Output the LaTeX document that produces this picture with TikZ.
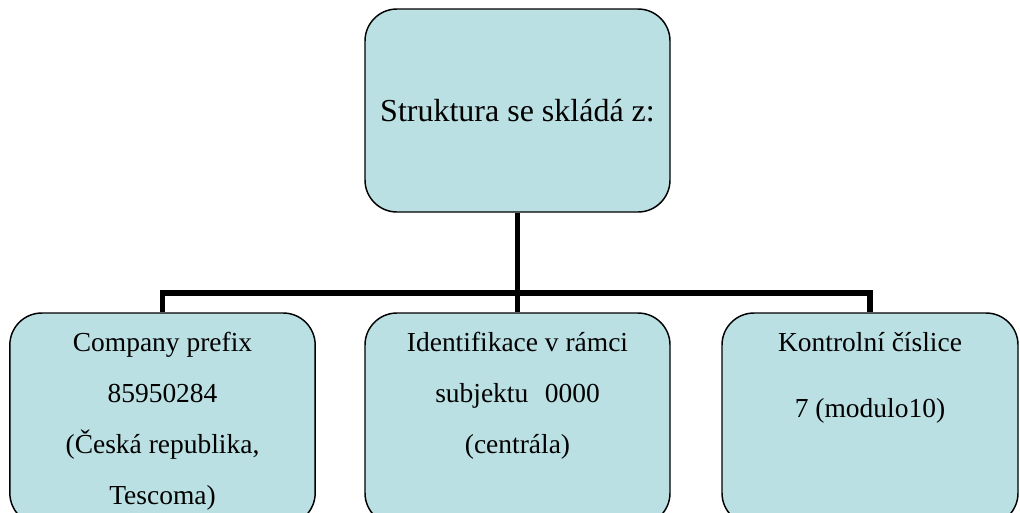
\documentclass[tikz,border=0pt]{standalone}
\usepackage{fontspec}
\setmainfont{Liberation Serif}
\usetikzlibrary{positioning}
\definecolor{boxfill}{RGB}{187,224,227}

\begin{document}
\begin{tikzpicture}[x=0.75pt,y=-0.75pt,
  box/.style={draw,line width=1.1pt,rounded corners=24pt,fill=boxfill,inner sep=0pt},
  boxtext/.style={anchor=north,align=center,inner sep=0pt,yshift=-15pt,
    font=\fontsize{20.6}{38.2}\selectfont},
  link/.style={line width=4.4pt}]
  \useasboundingbox (0,0) rectangle (1020,512);
  \node[box,minimum width=228.75pt,minimum height=152.25pt,
    font=\fontsize{24}{28}\selectfont] (struktura) at (517.5,110.5) {Struktura se skládá z:};
  \node[box,minimum width=229pt,minimum height=159pt,
    label={[boxtext]north:Company prefix\\85950284\\(Česká republika,\\Tescoma)}] (prefix) at (162.5,419) {};
  \node[box,minimum width=228.75pt,minimum height=159pt,
    label={[boxtext]north:Identifikace v rámci\\subjektu\hspace{0.6em}0000\\(centrála)}] (ident) at (517.5,419) {};
  \node[box,minimum width=222pt,minimum height=159pt,
    label={[boxtext]north:Kontrolní číslice\\[11.5pt]7 (modulo10)}] (kontrol) at (870,419) {};
  % spojnice
  \coordinate (split) at (517.5,293);
  \draw[link] (struktura.south) -- (split);
  \draw[link] (prefix.north) |- (split) -| (kontrol.north);
  \draw[link] (split) -- (ident.north);
\end{tikzpicture}
\end{document}
